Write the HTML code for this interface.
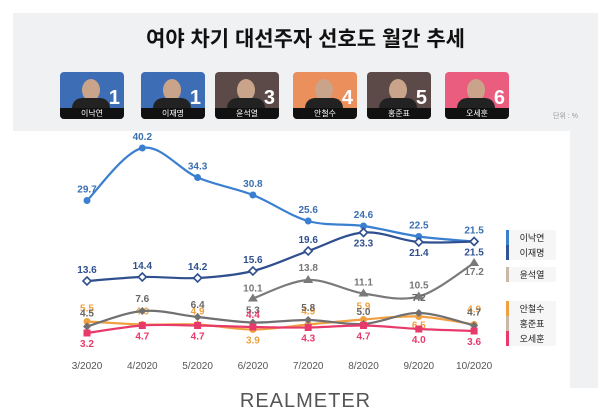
<!DOCTYPE html>
<html><head><meta charset="utf-8"><style>
body{margin:0;width:611px;height:420px;background:#fff;font-family:"Liberation Sans","Noto Sans CJK KR",sans-serif;overflow:hidden}
#wrap{position:absolute;left:13px;top:13px;width:585px;height:375px;background:#f0f1f3}
.title{position:absolute;left:0;top:10px;width:585px;text-align:center;font-size:21px;font-weight:bold;color:#111}
.card{position:absolute;top:59px;width:64px;height:47px;border-radius:4px;overflow:hidden}
.card .nm{position:absolute;left:0;bottom:0;width:100%;height:11px;background:#111;color:#fff;font-size:8px;text-align:center;line-height:11px}
.card .no{position:absolute;right:4px;bottom:9px;color:#fff;font-size:20px;font-weight:bold}
.card .face{position:absolute;left:22px;top:7px;width:18px;height:22px;border-radius:50%;background:#c9a48a}
.card .body{position:absolute;left:12px;top:26px;width:38px;height:14px;border-radius:10px 10px 0 0;background:#222}
#chart{position:absolute;left:0;top:118px}
</style></head><body>
<div id="wrap">
<div class="title">여야 차기 대선주자 선호도 월간 추세</div>
<div class="card" style="left:47px;background:#3d6db5"><div class="face"></div><div class="body"></div><div class="no">1</div><div class="nm">이낙연</div></div>
<div class="card" style="left:128px;background:#3d6db5"><div class="face"></div><div class="body"></div><div class="no">1</div><div class="nm">이재명</div></div>
<div class="card" style="left:202px;background:#5b4a48"><div class="face"></div><div class="body"></div><div class="no">3</div><div class="nm">윤석열</div></div>
<div class="card" style="left:280px;background:#eb8f5d"><div class="face"></div><div class="body"></div><div class="no">4</div><div class="nm">안철수</div></div>
<div class="card" style="left:354px;background:#5b4a48"><div class="face"></div><div class="body"></div><div class="no">5</div><div class="nm">홍준표</div></div>
<div class="card" style="left:432px;background:#ea5d7f"><div class="face"></div><div class="body"></div><div class="no">6</div><div class="nm">오세훈</div></div>
<div style="position:absolute;left:540px;top:98px;font-size:7px;color:#999">단위 : %</div>
<svg id="chart" width="585" height="257"></svg>
</div>
<div style="position:absolute;left:0;top:390px;width:611px;text-align:center;font-size:20px;letter-spacing:1px;color:#555">REALMETER</div>
<script>
const months=["3/2020","4/2020","5/2020","6/2020","7/2020","8/2020","9/2020","10/2020"];
const leeNY=[29.7,40.2,34.3,30.8,25.6,24.6,22.5,21.5];
const leeJM=[13.6,14.4,14.2,15.6,19.6,23.3,21.4,21.5];
const yoon=[null,null,null,10.1,13.8,11.1,10.5,17.2];
const ahn=[5.5,4.9,4.9,3.9,4.9,5.9,6.5,4.9];
const hong=[4.5,7.6,6.4,5.3,5.8,5.0,7.2,4.7];
const oh=[3.2,4.7,4.7,4.4,4.3,4.7,4.0,3.6];
const svg=document.getElementById('chart');const NS='http://www.w3.org/2000/svg';
const OX=13,OY=131;
function el(t,a,p){const e=document.createElementNS(NS,t);for(const k in a)e.setAttribute(k,a[k]);(p||svg).appendChild(e);return e;}
const bg=el('rect',{x:0,y:0,width:557,height:257,fill:'#fff'});


const x=i=>87+i*55.3-OX;
const y=v=>349-5.0*v-OY;
months.forEach((m,i)=>{const t=el('text',{x:x(i),y:238,'text-anchor':'middle','font-size':10,fill:'#555'});t.textContent=m;

});
function path(vals){let pts=[];vals.forEach((v,i)=>{if(v!=null)pts.push([x(i),y(v)]);});
let d='M'+pts[0][0]+','+pts[0][1];
for(let i=0;i<pts.length-1;i++){const p0=pts[i-1]||pts[i],p1=pts[i],p2=pts[i+1],p3=pts[i+2]||p2;
d+=` C${p1[0]+(p2[0]-p0[0])/6},${p1[1]+(p2[1]-p0[1])/6} ${p2[0]-(p3[0]-p1[0])/6},${p2[1]-(p3[1]-p1[1])/6} ${p2[0]},${p2[1]}`;}
return d;}
function series(name,vals,color,marker,labelColor,offs){
const g=el('g',{});
el('path',{d:path(vals),fill:'none',stroke:color,'stroke-width':2.2},g);
vals.forEach((v,i)=>{if(v==null)return;const cx=x(i),cy=y(v);let m;
if(marker==='circle')m=el('circle',{cx,cy,r:3.5,fill:color},g);
else if(marker==='odiamond')m=el('path',{d:`M${cx},${cy-4}L${cx+4},${cy}L${cx},${cy+4}L${cx-4},${cy}Z`,fill:'#fff',stroke:color,'stroke-width':1.6},g);
else if(marker==='diamond')m=el('path',{d:`M${cx},${cy-4}L${cx+4},${cy}L${cx},${cy+4}L${cx-4},${cy}Z`,fill:color},g);
else if(marker==='triangle')m=el('path',{d:`M${cx},${cy-5}L${cx+5},${cy+3}L${cx-5},${cy+3}Z`,fill:color},g);
else m=el('rect',{x:cx-3.5,y:cy-3.5,width:7,height:7,fill:color},g);

const o=offs[i];const t=el('text',{x:cx,y:cy+o,'text-anchor':'middle','font-size':10,'font-weight':'bold',fill:labelColor},g);t.textContent=v.toFixed(1);
});}
series('lee-nakyeon',leeNY,'#3a7fd0','circle','#3a6fb0',[-8,-8,-8,-8,-8,-8,-8,-8]);
series('lee-jaemyung',leeJM,'#2f4f8f','odiamond','#2f4f8f',[-8,-8,-8,-8,-8,14,14,14]);
series('yoon',yoon,'#7a7a7a','triangle','#777',[0,0,0,-7,-9,-8,-8,12]);
series('ahn',ahn,'#f0a040','circle','#f0a040',[-10,-10,-10,14,-10,-10,12,-12]);
series('hong',hong,'#707070','diamond','#666',[-10,-9,-9,-9,-9,-9,-12,-10]);
series('oh',oh,'#e83a6a','square','#e83a6a',[14,14,14,-9,14,14,14,14]);
const leg=[['이낙연','#3a7fd0',237],['이재명','#2f5597',252],['윤석열','#c8b8a8',274],['안철수','#f0a040',308],['홍준표','#c8b8a8',323],['오세훈','#e83a6a',338]];
leg.forEach(l=>{const g=el('g',{});
el('rect',{x:508-OX,y:l[2]-OY-7,width:48,height:15,fill:'#f6f6f6'},g);
el('rect',{x:506-OX,y:l[2]-OY-7,width:3,height:15,fill:l[1]},g);
const t=el('text',{x:532-OX,y:l[2]-OY+4,'text-anchor':'middle','font-size':9,fill:'#222'},g);t.textContent=l[0];});
</script>
</body></html>
